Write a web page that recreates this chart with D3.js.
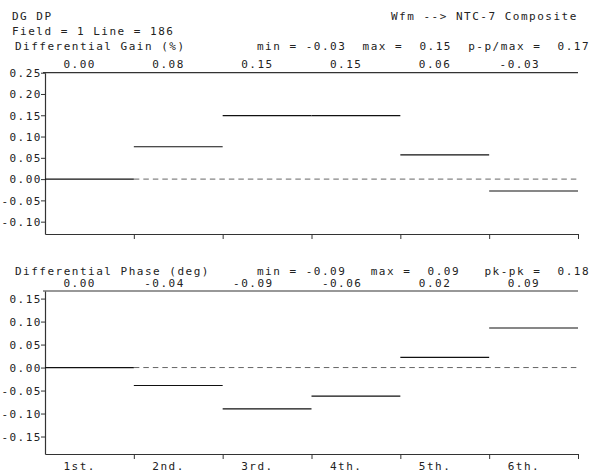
<!DOCTYPE html>
<html>
<head>
<meta charset="utf-8">
<script src="https://cdn.jsdelivr.net/npm/d3@7"></script>
<style>
  html, body { margin: 0; padding: 0; background: #fff; }
  svg { display: block; }
  text { font-family: "DejaVu Sans Mono", monospace; font-size: 11px; letter-spacing: 1.5px; fill: #222; white-space: pre; }
</style>
</head>
<body>
<svg id="chart" width="590" height="474"></svg>
<script>
// ---- data ----
const positions = ["1st.", "2nd.", "3rd.", "4th.", "5th.", "6th."];
const gainValues = [0.000, 0.076, 0.149, 0.149, 0.057, -0.028];
const phaseValues = [0.000, -0.039, -0.090, -0.062, 0.022, 0.086];
const gainTicks = [0.25, 0.20, 0.15, 0.10, 0.05, 0.00, -0.05, -0.10];
const phaseTicks = [0.15, 0.10, 0.05, 0.00, -0.05, -0.10, -0.15];
const titleLeft = ["DG DP", "Field = 1 Line = 186"];
const titleRight = "Wfm --> NTC-7 Composite";
const gainTitle = "Differential Gain (%)";
const gainStats = "min = -0.03  max =  0.15  p-p/max =  0.17";
const phaseTitle = "Differential Phase (deg)";
const phaseStats = "min = -0.09   max =  0.09   pk-pk =  0.18";

const svg = d3.select("#chart");
const fmt = d => (Math.abs(d) < 1e-9 ? 0 : d).toFixed(2);

const x = d3.scaleLinear().domain([0, positions.length]).range([45, 578]);

// titles
svg.append("text").attr("x", 12).attr("y", 19.5).text(titleLeft[0]);
svg.append("text").attr("x", 12).attr("y", 35).text(titleLeft[1]);
svg.append("text").attr("x", 391).attr("y", 19.5).text(titleRight);

function panel(cfg) {
  const { y, values, ticks, title, stats, titleY, valY, showLabels } = cfg;
  const g = svg.append("g");
  const [yb, yt] = y.range();

  g.append("text").attr("x", 15).attr("y", titleY).text(title);
  g.append("text").attr("x", 257).attr("y", titleY).text(stats);

  // values row (right aligned per segment)
  g.selectAll("text.val").data(values).join("text")
    .attr("class", "val")
    .attr("x", (d, i) => x(i) + 51)
    .attr("y", valY)
    .attr("text-anchor", "end")
    .text(d => fmt(d));

  // top frame line
  g.append("line")
    .attr("x1", x(0) - 2).attr("x2", x(positions.length))
    .attr("y1", yt).attr("y2", yt)
    .attr("stroke", "#333").attr("stroke-width", 1.2);

  // left axis
  const ax = g.append("g").attr("transform", `translate(${x(0)},0)`)
    .call(d3.axisLeft(y).tickValues(ticks).tickSize(4).tickSizeOuter(0).tickFormat(fmt));
  ax.select(".domain").attr("stroke", "#333").attr("stroke-width", 1.2);
  ax.selectAll(".tick line").attr("stroke", "#333");
  ax.selectAll(".tick text")
    .attr("x", -3).attr("dy", "0.35em")
    .style("font-family", "'DejaVu Sans Mono', monospace")
    .style("font-size", "11px").attr("fill", "#222");

  // bottom axis
  const bx = g.append("g").attr("transform", `translate(0,${yb})`)
    .call(d3.axisBottom(x).tickValues(d3.range(1, positions.length + 1)).tickSize(5).tickSizeOuter(0).tickFormat(""));
  bx.select(".domain").attr("stroke", "#333").attr("stroke-width", 1.2);
  bx.selectAll(".tick line").attr("stroke", "#333");

  if (showLabels) {
    g.selectAll("text.cat").data(positions).join("text")
      .attr("class", "cat")
      .attr("x", (d, i) => x(i) + 51)
      .attr("y", yb + 16)
      .attr("text-anchor", "end")
      .text(d => d);
  }

  // dashed zero reference
  g.append("line")
    .attr("x1", x(1)).attr("x2", x(positions.length))
    .attr("y1", y(0)).attr("y2", y(0))
    .attr("stroke", "#666").attr("stroke-dasharray", "5.5,4");

  // level segments
  g.selectAll("line.seg").data(values).join("line")
    .attr("class", "seg")
    .attr("x1", (d, i) => x(i)).attr("x2", (d, i) => x(i + 1))
    .attr("y1", d => y(d)).attr("y2", d => y(d))
    .attr("stroke", "#111").attr("stroke-width", 1.2);
}

const yGain = d3.scaleLinear().domain([-0.129, 0.25]).range([234, 72.7]);
const yPhase = d3.scaleLinear().domain([-0.188, 0.1665]).range([454, 291]);

panel({ y: yGain, values: gainValues, ticks: gainTicks, title: gainTitle, stats: gainStats, titleY: 50, valY: 68, showLabels: false });
panel({ y: yPhase, values: phaseValues, ticks: phaseTicks, title: phaseTitle, stats: phaseStats, titleY: 275, valY: 287, showLabels: true });
</script>
</body>
</html>
